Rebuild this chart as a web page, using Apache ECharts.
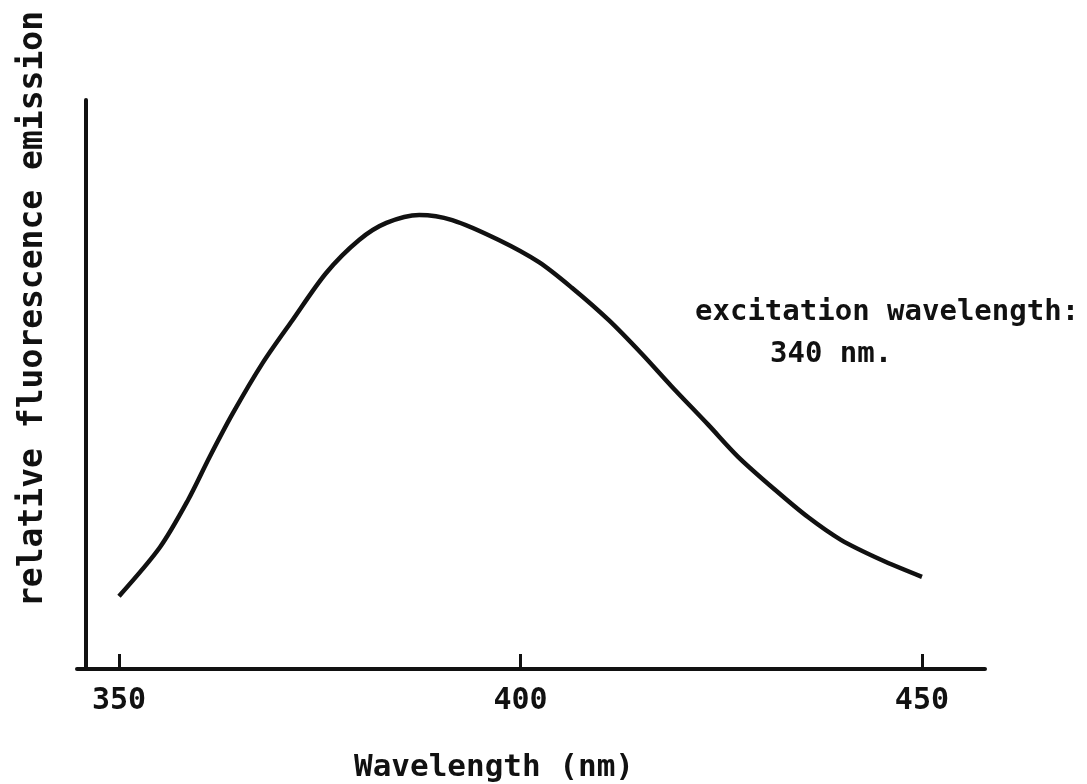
<!DOCTYPE html>
<html>
<head>
<meta charset="utf-8">
<script src="https://cdn.jsdelivr.net/npm/echarts@6/dist/echarts.min.js"></script>
<style>
  html, body { margin: 0; padding: 0; background: #fff; }
  #chart { width: 1087px; height: 784px; }
</style>
</head>
<body>
<div id="chart"></div>
<script>
// emission spectrum
var wavelength = [350, 355.1, 358.6, 361.3, 364.2, 367.9, 371.6, 375.8, 379.9, 383.3, 387.4, 391.5,
  397.3, 402.3, 406.4, 411.0, 415.1, 418.8, 423.4, 427.1, 431.7, 435.8, 439.9, 444.9, 450];
var emission = [12.8, 21.4, 29.7, 37.3, 45.0, 53.8, 61.3, 69.6, 75.4, 78.4, 79.8, 78.9,
  75.4, 71.5, 67.0, 61.3, 55.4, 49.7, 42.9, 37.3, 31.5, 26.7, 22.7, 19.2, 16.2];
var xTicks = [350, 400, 450];

var monoFont = '"DejaVu Sans Mono", "Liberation Mono", monospace';

var points = wavelength.map(function (w, i) { return [w, emission[i]]; });

var chart = echarts.init(document.getElementById('chart'));
var option = {
  backgroundColor: '#fff',
  animation: false,
  grid: { left: 77, right: 102, top: 100, bottom: 115 },
  title: [
    {
      text: 'Wavelength (nm)', left: 349, top: 747,
      textStyle: { fontFamily: monoFont, fontSize: 31, fontWeight: 'bold', color: '#111' }
    },
    {
      text: 'excitation wavelength:', left: 690, top: 293,
      textStyle: { fontFamily: monoFont, fontSize: 29, fontWeight: 'bold', color: '#111' }
    },
    {
      text: '340 nm.', left: 765, top: 335,
      textStyle: { fontFamily: monoFont, fontSize: 29, fontWeight: 'bold', color: '#111' }
    }
  ],
  graphic: [{
    type: 'text',
    x: 33, y: 309,
    rotation: Math.PI / 2,
    style: {
      text: 'relative fluorescence emission',
      font: 'bold 33px ' + monoFont,
      fill: '#111',
      align: 'center',
      verticalAlign: 'middle'
    }
  }],
  xAxis: {
    type: 'value',
    min: 344.77,
    max: 457.85,
    splitLine: { show: false },
    axisLine: { show: true, lineStyle: { color: '#111', width: 4 } },
    axisTick: {
      show: true, inside: true, length: 15, customValues: xTicks,
      lineStyle: { color: '#111', width: 3 }
    },
    axisLabel: {
      customValues: xTicks, margin: 17,
      fontFamily: monoFont, fontSize: 30, fontWeight: 'bold', color: '#111'
    }
  },
  yAxis: {
    type: 'value',
    min: 0,
    max: 100,
    offset: -9,
    splitLine: { show: false },
    axisLine: { show: true, lineStyle: { color: '#111', width: 4 } },
    axisTick: { show: false },
    axisLabel: { show: false }
  },
  series: [{
    type: 'line',
    data: points,
    smooth: 0.3,
    showSymbol: false,
    lineStyle: { color: '#111', width: 4.5 }
  }]
};
chart.setOption(option);
</script>
</body>
</html>
